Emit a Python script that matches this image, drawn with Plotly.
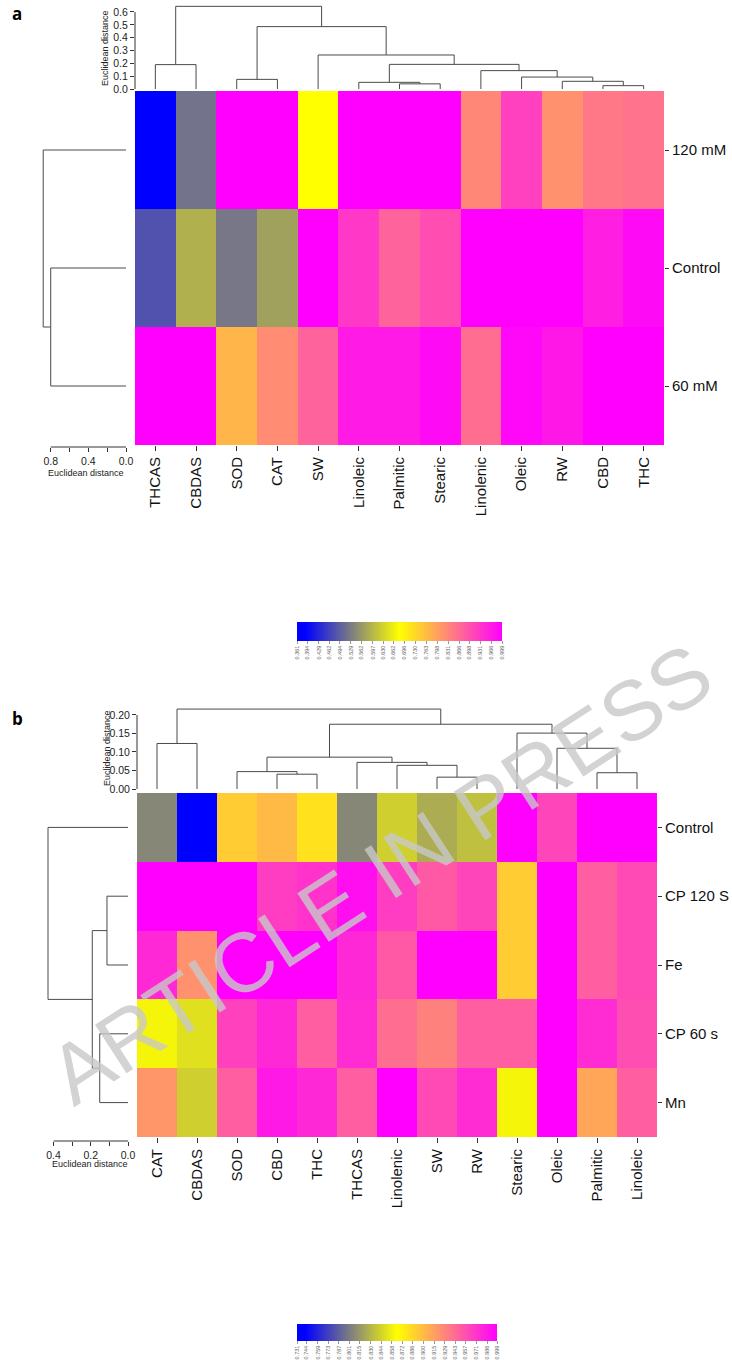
import plotly.graph_objects as go

W, H = 732, 1360
FONT = "Liberation Sans, Arial, sans-serif"

# ---------------- Panel a data ----------------
cols_a = ["THCAS", "CBDAS", "SOD", "CAT", "SW", "Linoleic", "Palmitic", "Stearic",
          "Linolenic", "Oleic", "RW", "CBD", "THC"]
rows_a = ["120 mM", "Control", "60 mM"]
vals_a_120mM = [0.361, 0.519, 0.999, 0.999, 0.680, 0.999, 0.999, 0.999, 0.830, 0.919, 0.817, 0.849, 0.855]
vals_a_control = [0.480, 0.589, 0.524, 0.572, 0.999, 0.929, 0.875, 0.903, 0.999, 0.999, 0.999, 0.961, 0.986]
vals_a_60mM = [0.999, 0.999, 0.773, 0.824, 0.875, 0.967, 0.967, 0.986, 0.862, 0.990, 0.970, 0.999, 0.999]
cbar_a_labels = ["0.361", "0.394", "0.429", "0.462", "0.494", "0.529", "0.562", "0.597", "0.630", "0.662",
                 "0.696", "0.730", "0.763", "0.798", "0.831", "0.866", "0.898", "0.931", "0.966", "0.999"]
# column dendrogram (R-style merges: negative = leaf position, positive = earlier merge)
dend_a_col_left = [-12, -7, -6, -11, -3, -10, -9, -1, 3, -5, 5, 8]
dend_a_col_right = [-13, -8, 2, 1, -4, 4, 6, -2, 7, 9, 10, 11]
dend_a_col_height = [0.026, 0.040, 0.052, 0.060, 0.075, 0.093, 0.143, 0.190, 0.192, 0.265, 0.486, 0.644]
dend_a_row_left = [-2, -1]
dend_a_row_right = [-3, 1]
dend_a_row_height = [0.80, 0.88]
ticks_a_col = ["0.0", "0.1", "0.2", "0.3", "0.4", "0.5", "0.6"]
ticks_a_row = ["0.0", "", "0.4", "", "0.8"]
tickvals_a_row = [0.0, 0.2, 0.4, 0.6, 0.8]

# ---------------- Panel b data ----------------
cols_b = ["CAT", "CBDAS", "SOD", "CBD", "THC", "THCAS", "Linolenic", "SW", "RW", "Stearic",
          "Oleic", "Palmitic", "Linoleic"]
rows_b = ["Control", "CP 120 S", "Fe", "CP 60 s", "Mn"]
vals_b_control = [0.807, 0.731, 0.892, 0.901, 0.881, 0.807, 0.842, 0.825, 0.834, 0.999, 0.963, 0.999, 0.999]
vals_b_cp120 = [0.999, 0.999, 0.999, 0.967, 0.972, 0.991, 0.967, 0.952, 0.963, 0.892, 0.999, 0.949, 0.960]
vals_b_fe = [0.978, 0.923, 0.999, 0.999, 0.999, 0.978, 0.952, 0.999, 0.999, 0.892, 0.999, 0.949, 0.960]
vals_b_cp60 = [0.860, 0.850, 0.965, 0.978, 0.949, 0.976, 0.941, 0.931, 0.949, 0.949, 0.999, 0.976, 0.958]
vals_b_mn = [0.920, 0.842, 0.949, 0.986, 0.978, 0.949, 0.999, 0.960, 0.976, 0.860, 0.999, 0.912, 0.949]
cbar_b_labels = ["0.731", "0.744", "0.759", "0.773", "0.787", "0.801", "0.815", "0.830", "0.844", "0.858",
                 "0.872", "0.886", "0.900", "0.915", "0.929", "0.943", "0.957", "0.971", "0.986", "0.999"]
dend_b_col_left = [-8, -4, -12, -3, -7, -6, 4, -11, -1, -10, 7, 9]
dend_b_col_right = [-9, -5, -13, 2, 1, 5, 6, 3, -2, 8, 10, 11]
dend_b_col_height = [0.032, 0.040, 0.044, 0.047, 0.064, 0.072, 0.086, 0.110, 0.123, 0.151, 0.175, 0.216]
dend_b_row_left = [-2, -4, 1, -1]
dend_b_row_right = [-3, -5, 2, 3]
dend_b_row_height = [0.113, 0.152, 0.192, 0.43]
ticks_b_col = ["0.00", "0.05", "0.10", "0.15", "0.20"]
ticks_b_row = ["0.0", "", "0.2", "", "0.4"]
tickvals_b_row = [0.0, 0.1, 0.2, 0.3, 0.4]

COLORSCALE = [[0.0, "#0000ff"], [0.04, "#0000ff"], [0.5, "#ffff00"], [1.0, "#ff00ff"]]
LINE = "#4a4a4a"


def px_x(x):
    return x / W


def px_y(y):
    return 1 - y / H


def dendro(left, right, height):
    pos = {}

    def coord(c):
        if c < 0:
            return (-c - 1, 0.0)
        return (pos[c], height[c - 1])

    p, h = [], []
    for i, (l, r, hh) in enumerate(zip(left, right, height), start=1):
        pl, hl = coord(l)
        pr, hr = coord(r)
        p += [pl, pl, pr, pr, None]
        h += [hl, hh, hh, hr, None]
        pos[i] = (pl + pr) / 2
    return p, h


fig = go.Figure()

# ---- geometry (pixels) ----
A = dict(hx0=135, hx1=664, hy0=91, hy1=445, dy_top=3, dy_bot=89, dtop_max=0.670,
         lx0=35, lx1=126, lmax=0.967, laxis=447)
B = dict(hx0=137, hx1=657, hy0=793, hy1=1137, dy_top=700, dy_bot=789, dtop_max=0.2405,
         lx0=40, lx1=128, lmax=0.473, laxis=1141)


def cbar(labels, x0, x1, ytop, thick):
    return dict(orientation="h", x=px_x((x0 + x1) / 2), xanchor="center", len=(x1 - x0) / W,
                lenmode="fraction", y=px_y(ytop), yanchor="top", thickness=thick,
                thicknessmode="pixels", outlinewidth=0, xpad=0, ypad=0,
                tickvals=[float(t) for t in labels], ticktext=labels, tickangle=-90,
                ticks="outside", ticklen=3, tickcolor="#999",
                tickfont=dict(size=5.5, color="#666", family=FONT))


# heatmap a
fig.add_trace(go.Heatmap(z=[vals_a_120mM, vals_a_control, vals_a_60mM], x=cols_a, y=rows_a,
                         colorscale=COLORSCALE, zmin=0.361, zmax=0.999, xaxis="x", yaxis="y",
                         xgap=0, ygap=0, hoverinfo="skip",
                         colorbar=cbar(cbar_a_labels, 297, 502, 622, 19)))
# heatmap b
fig.add_trace(go.Heatmap(z=[vals_b_control, vals_b_cp120, vals_b_fe, vals_b_cp60, vals_b_mn],
                         x=cols_b, y=rows_b, colorscale=COLORSCALE, zmin=0.731, zmax=0.999,
                         xaxis="x4", yaxis="y4", hoverinfo="skip",
                         colorbar=cbar(cbar_b_labels, 297, 497, 1324, 17)))

# dendrograms
p, h = dendro(dend_a_col_left, dend_a_col_right, dend_a_col_height)
fig.add_trace(go.Scatter(x=p, y=h, mode="lines", line=dict(color=LINE, width=1),
                         xaxis="x2", yaxis="y2", hoverinfo="skip", showlegend=False))
p, h = dendro(dend_a_row_left, dend_a_row_right, dend_a_row_height)
fig.add_trace(go.Scatter(x=h, y=p, mode="lines", line=dict(color=LINE, width=1),
                         xaxis="x3", yaxis="y3", hoverinfo="skip", showlegend=False))
p, h = dendro(dend_b_col_left, dend_b_col_right, dend_b_col_height)
fig.add_trace(go.Scatter(x=p, y=h, mode="lines", line=dict(color=LINE, width=1),
                         xaxis="x5", yaxis="y5", hoverinfo="skip", showlegend=False))
p, h = dendro(dend_b_row_left, dend_b_row_right, dend_b_row_height)
fig.add_trace(go.Scatter(x=h, y=p, mode="lines", line=dict(color=LINE, width=1),
                         xaxis="x6", yaxis="y6", hoverinfo="skip", showlegend=False))

tickfont_lab = dict(size=15, color="#111", family=FONT)
tickfont_ax = dict(size=10.5, color="#222", family=FONT)


def heat_axes(G, n_rows, xa, ya):
    return {
        xa: dict(domain=[px_x(G["hx0"]), px_x(G["hx1"])], anchor=ya.replace("axis", ""),
                 tickangle=-90, ticks="outside", ticklen=5, tickcolor="#333",
                 tickfont=tickfont_lab, showgrid=False, zeroline=False, showline=False,
                 automargin=False),
        ya: dict(domain=[px_y(G["hy1"]), px_y(G["hy0"])], anchor=xa.replace("axis", ""),
                 side="right", autorange="reversed", ticks="outside", ticklen=4, tickcolor="#333",
                 tickfont=tickfont_lab, showgrid=False, zeroline=False, showline=False,
                 automargin=False),
    }


def dend_axes(G, n_cols, n_rows, col_ticks, row_tickvals, row_ticktext, xa2, ya2, xa3, ya3):
    return {
        xa2: dict(domain=[px_x(G["hx0"]), px_x(G["hx1"])], range=[-0.5, n_cols - 0.5],
                  anchor=ya2.replace("axis", ""), visible=False),
        ya2: dict(domain=[px_y(G["dy_bot"]), px_y(G["dy_top"])], range=[0, G["dtop_max"]],
                  anchor=xa2.replace("axis", ""), tickvals=[float(t) for t in col_ticks],
                  ticktext=col_ticks, ticks="outside", ticklen=4, tickcolor="#333",
                  tickfont=tickfont_ax, showgrid=False, zeroline=False, showline=False,
                  automargin=False),
        xa3: dict(domain=[px_x(G["lx0"]), px_x(G["lx1"])], range=[G["lmax"], 0],
                  anchor="free", position=px_y(G["laxis"]), tickvals=row_tickvals,
                  ticktext=row_ticktext, ticks="outside", ticklen=4, tickcolor="#333",
                  tickfont=tickfont_ax, showgrid=False, zeroline=False, showline=False,
                  automargin=False),
        ya3: dict(domain=[px_y(G["hy1"]), px_y(G["hy0"])], range=[n_rows - 0.5, -0.5],
                  anchor=xa3.replace("axis", ""), visible=False),
    }


layout_axes = {}
layout_axes.update(heat_axes(A, 3, "xaxis", "yaxis"))
layout_axes.update(heat_axes(B, 5, "xaxis4", "yaxis4"))
layout_axes.update(dend_axes(A, 13, 3, ticks_a_col, tickvals_a_row, ticks_a_row,
                             "xaxis2", "yaxis2", "xaxis3", "yaxis3"))
layout_axes.update(dend_axes(B, 13, 5, ticks_b_col, tickvals_b_row, ticks_b_row,
                             "xaxis5", "yaxis5", "xaxis6", "yaxis6"))

shapes = [
    dict(type="line", xref="paper", yref="y2", x0=px_x(A["hx0"]), x1=px_x(A["hx0"]),
         y0=0, y1=float(ticks_a_col[-1]), line=dict(color="#333", width=1)),
    dict(type="line", xref="x3", yref="paper", x0=0, x1=tickvals_a_row[-1],
         y0=px_y(A["laxis"]), y1=px_y(A["laxis"]), line=dict(color="#333", width=1)),
    dict(type="line", xref="paper", yref="y5", x0=px_x(B["hx0"]), x1=px_x(B["hx0"]),
         y0=0, y1=float(ticks_b_col[-1]), line=dict(color="#333", width=1)),
    dict(type="line", xref="x6", yref="paper", x0=0, x1=tickvals_b_row[-1],
         y0=px_y(B["laxis"]), y1=px_y(B["laxis"]), line=dict(color="#333", width=1)),
]

ann_small = dict(size=9, color="#222", family=FONT)
annotations = [
    dict(text="<b>a</b>", x=px_x(17), y=px_y(14), xref="paper", yref="paper", showarrow=False,
         font=dict(size=17, color="#000", family="Open Sans, sans-serif"), xanchor="center",
         yanchor="middle"),
    dict(text="<b>b</b>", x=px_x(17), y=px_y(718), xref="paper", yref="paper", showarrow=False,
         font=dict(size=17, color="#000", family="Open Sans, sans-serif"), xanchor="center",
         yanchor="middle"),
    dict(text="Euclidean distance", textangle=-90, x=px_x(105), y=px_y(48), xref="paper",
         yref="paper", showarrow=False, font=ann_small, xanchor="center", yanchor="middle"),
    dict(text="Euclidean distance", textangle=-90, x=px_x(107), y=px_y(748), xref="paper",
         yref="paper", showarrow=False, font=ann_small, xanchor="center", yanchor="middle"),
    dict(text="Euclidean distance", x=px_x(86), y=px_y(473), xref="paper", yref="paper",
         showarrow=False, font=ann_small, xanchor="center", yanchor="middle"),
    dict(text="Euclidean distance", x=px_x(90), y=px_y(1164), xref="paper", yref="paper",
         showarrow=False, font=ann_small, xanchor="center", yanchor="middle"),
    dict(text="ARTICLE IN PRESS", textangle=-33, x=px_x(380), y=px_y(874), xref="paper",
         yref="paper", showarrow=False, xanchor="center", yanchor="middle",
         font=dict(size=84, color="rgba(200,200,200,0.8)", family=FONT)),
]

fig.update_layout(width=W, height=H, margin=dict(l=0, r=0, t=0, b=0, autoexpand=False),
                  paper_bgcolor="white", plot_bgcolor="rgba(0,0,0,0)", showlegend=False,
                  shapes=shapes, annotations=annotations, font=dict(family=FONT),
                  hovermode=False, **layout_axes)

fig.write_html("out.html", config={"displayModeBar": False, "staticPlot": True},
               post_script="document.body.style.margin='0';document.body.style.padding='0';")
